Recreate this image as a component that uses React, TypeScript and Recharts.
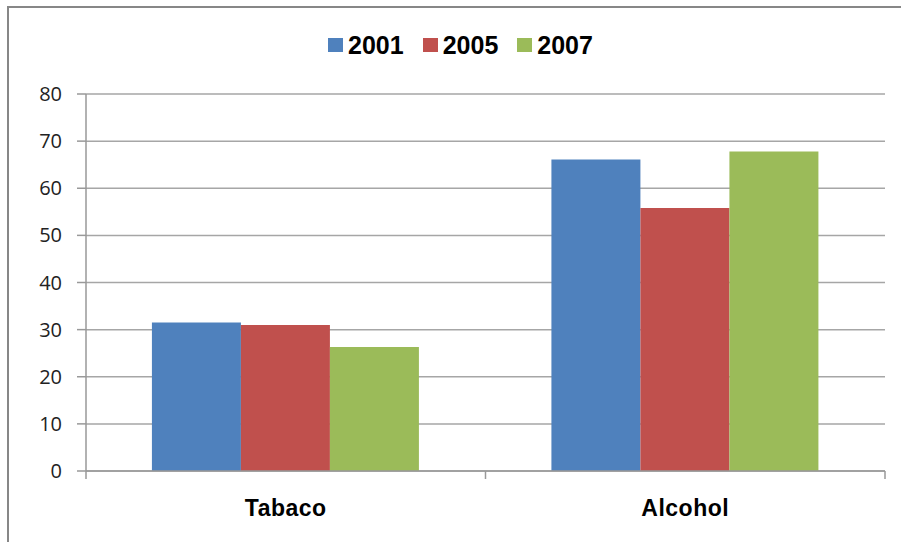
import React from 'react';
import { BarChart, Bar, XAxis, YAxis, CartesianGrid, Legend } from 'recharts';

const categories = ['Tabaco', 'Alcohol'];
const values2001 = [31.5, 66.1];
const values2005 = [31.0, 55.8];
const values2007 = [26.3, 67.8];
const yTicks = [0, 10, 20, 30, 40, 50, 60, 70, 80];

const series = [
  { key: 'y2001', name: '2001', color: '#4f81bd' },
  { key: 'y2005', name: '2005', color: '#c0504d' },
  { key: 'y2007', name: '2007', color: '#9bbb59' },
];

const data = categories.map((name, i) => ({
  name,
  y2001: values2001[i],
  y2005: values2005[i],
  y2007: values2007[i],
}));

const LegendContent = () => (
  <div style={{ display: 'flex', justifyContent: 'center', alignItems: 'center', height: 30, paddingLeft: 20 }}>
    {series.map((s, i) => (
      <div key={s.key} style={{ display: 'flex', alignItems: 'center', marginLeft: i === 0 ? 0 : 19 }}>
        <span style={{ display: 'inline-block', width: 15, height: 14, background: s.color, marginRight: 5 }} />
        <span style={{ fontFamily: '"Liberation Sans", Arial, sans-serif', fontWeight: 'bold', fontSize: 25, color: '#000' }}>
          {s.name}
        </span>
      </div>
    ))}
  </div>
);

// category label plus tick marks on the band edges (Excel style)
const CategoryTick = (props: any) => {
  const { x, y, payload, index, visibleTicksCount } = props;
  const half = payload.offset || 0;
  const last = index === visibleTicksCount - 1;
  return (
    <g>
      <line x1={x - half} x2={x - half} y1={y} y2={y + 8} stroke="#999999" strokeWidth={1.5} />
      {last && <line x1={x + half} x2={x + half} y1={y} y2={y + 8} stroke="#999999" strokeWidth={1.5} />}
      <text
        x={x}
        y={y + 45}
        textAnchor="middle"
        fill="#000"
        fontSize={23}
        fontWeight="bold"
        letterSpacing={0.5}
        fontFamily='"Liberation Sans", Arial, sans-serif'
      >
        {payload.value}
      </text>
    </g>
  );
};

export default function App() {
  return (
    <div style={{ position: 'absolute', left: 0, top: 0, width: 901, height: 542, background: '#fff', overflow: 'hidden' }}>
      <div
        style={{
          position: 'absolute',
          left: 7,
          top: 6,
          width: 892,
          height: 540,
          borderTop: '2px solid #878787',
          borderLeft: '2px solid #878787',
        }}
      />
      <div style={{ position: 'absolute', left: 0, top: 0 }}>
        <BarChart
          width={901}
          height={542}
          data={data}
          barCategoryGap="16.5%"
          barGap={0}
          margin={{ top: 64, right: 16, left: 8, bottom: 31 }}
        >
          <Legend verticalAlign="top" content={<LegendContent />} wrapperStyle={{ top: 30, left: 0, width: 901 }} />
          <CartesianGrid vertical={false} stroke="#a6a6a6" strokeWidth={1.5} />
          <XAxis
            dataKey="name"
            height={40}
            stroke="#999999"
            strokeWidth={1.5}
            tickLine={false}
            tickSize={0}
            tickMargin={0}
            interval={0}
            tick={<CategoryTick />}
          />
          <YAxis
            domain={[0, 80]}
            ticks={yTicks}
            width={78}
            tickSize={9}
            tickMargin={15}
            stroke="#999999"
            strokeWidth={1.5}
            tick={{ fontSize: 20, fill: '#222', fontFamily: '"Open Sans", sans-serif' }}
          />
          {series.map((s) => (
            <Bar key={s.key} dataKey={s.key} name={s.name} fill={s.color} isAnimationActive={false} />
          ))}
        </BarChart>
      </div>
    </div>
  );
}
